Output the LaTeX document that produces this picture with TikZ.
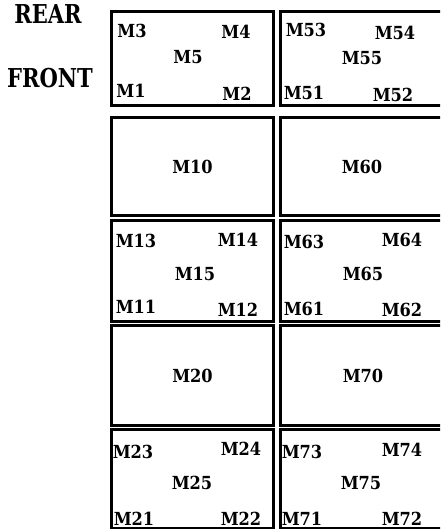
\documentclass[tikz,border=0pt]{standalone}
\usepackage{fontspec}
\setmainfont{DejaVu Serif}
\usepackage{tikz}
\usetikzlibrary{positioning}

\begin{document}
\begin{tikzpicture}[
    x=1pt, y=-1pt,
    bay/.style={draw, line width=2.8pt, inner sep=0pt, minimum width=162pt},
    bayr/.style={bay, minimum width=163.5pt},
    tag/.style={inner sep=0pt, xscale=0.9, font=\bfseries\fontsize{18}{18}\selectfont},
    side/.style={inner sep=0pt, xscale=0.81, font=\bfseries\fontsize{26}{26}\selectfont}
  ]
    \useasboundingbox (0,0) rectangle (440,531);
    \clip (0,0) rectangle (440,531);

    % side labels
    \node[side] (rear) at (48,14.5) {REAR};
    \node[side] (front) at (50,78) {FRONT};

    % left column
    \node[bay, minimum height=94pt] (bayA) at (192.5,58.5) {};
    \node[bay, minimum height=98pt] (bayB) at (192.5,166.5) {};
    \node[bay, minimum height=101pt] (bayC) at (192.5,271) {};
    \node[bay, minimum height=100pt] (bayD) at (192.5,375.5) {};
    \node[bay, minimum height=98.5pt] (bayE) at (192.5,478.75) {};

    % right column
    \node[bayr, minimum height=94pt] (bayF) at (362.25,58.5) {};
    \node[bayr, minimum height=98pt] (bayG) at (362.25,166.5) {};
    \node[bayr, minimum height=101pt] (bayH) at (362.25,271) {};
    \node[bayr, minimum height=100pt] (bayI) at (362.25,375.5) {};
    \node[bayr, minimum height=98.5pt] (bayJ) at (362.25,478.75) {};

    % row 1
    \node[tag] (m3) at (132,31) {M3};
    \node[tag] (m4) at (236,32) {M4};
    \node[tag] (m5) at (188,57) {M5};
    \node[tag] (m1) at (131,91) {M1};
    \node[tag] (m2) at (237,94) {M2};
    \node[tag] (m53) at (306,30) {M53};
    \node[tag] (m54) at (395,33) {M54};
    \node[tag] (m55) at (362,58) {M55};
    \node[tag] (m51) at (304,93) {M51};
    \node[tag] (m52) at (393,95) {M52};

    % row 2
    \node[tag] (m10) at (bayB) {M10};
    \node[tag] (m60) at (362,166.5) {M60};

    % row 3
    \node[tag] (m13) at (136,241) {M13};
    \node[tag] (m14) at (238,240) {M14};
    \node[tag] (m15) at (195,274) {M15};
    \node[tag] (m11) at (136,307) {M11};
    \node[tag] (m12) at (238,310) {M12};
    \node[tag] (m63) at (304,242) {M63};
    \node[tag] (m64) at (402,240) {M64};
    \node[tag] (m65) at (363,274) {M65};
    \node[tag] (m61) at (304,309) {M61};
    \node[tag] (m62) at (402,310) {M62};

    % row 4
    \node[tag] (m20) at (bayD) {M20};
    \node[tag] (m70) at (363,375.5) {M70};

    % row 5
    \node[tag] (m23) at (133,452) {M23};
    \node[tag] (m24) at (241,449) {M24};
    \node[tag] (m25) at (192,483) {M25};
    \node[tag] (m21) at (134,519) {M21};
    \node[tag] (m22) at (241,519) {M22};
    \node[tag] (m73) at (302,452) {M73};
    \node[tag] (m74) at (402,450) {M74};
    \node[tag] (m75) at (361,483) {M75};
    \node[tag] (m71) at (302,519) {M71};
    \node[tag] (m72) at (402,519) {M72};
  \end{tikzpicture}
\end{document}
